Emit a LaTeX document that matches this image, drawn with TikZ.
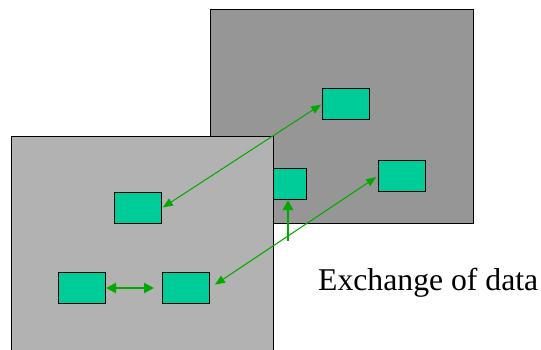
\documentclass[tikz,border=0pt]{standalone}
\usepackage{fontspec}
\setmainfont{Liberation Serif}
\usetikzlibrary{arrows.meta}
\definecolor{backgray}{RGB}{150,150,150}
\definecolor{frontgray}{RGB}{178,178,178}
\definecolor{boxgreen}{RGB}{0,204,153}
\definecolor{arrowgreen}{RGB}{0,170,0}
\tikzset{
  panel/.style={draw=black, line width=1pt, anchor=north west, inner sep=0pt},
  unitbox/.style={draw=black, line width=1pt, fill=boxgreen, anchor=north west, inner sep=0pt, minimum width=47pt, minimum height=31pt},
  thinlink/.style={draw=arrowgreen, line width=1pt, {Triangle[length=10pt,width=8pt]}-{Triangle[length=10pt,width=8pt]}},
  thicklink/.style={draw=arrowgreen, line width=2pt},
  tip/.style={Triangle[length=10pt,width=10pt]}
}
\begin{document}
\begin{tikzpicture}[x=1pt,y=-1pt]
\useasboundingbox (0,0) rectangle (541,349);
% back panel
\node[panel, fill=backgray, minimum width=263pt, minimum height=214pt] (back) at (210,9) {};
\node[unitbox] (b1) at (322,88) {};
\node[unitbox] (b2) at (259,168) {};
\node[unitbox] (b3) at (378,160) {};
% front panel
\node[panel, fill=frontgray, minimum width=262pt, minimum height=230pt] (front) at (11,136) {};
\node[unitbox] (f1) at (114,192) {};
\node[unitbox] (f2) at (58,272) {};
\node[unitbox] (f3) at (162,272) {};
% connectors
\draw[thinlink, shorten <=1pt, shorten >=1pt] (f1.east) -- (b1.west);
\draw[thinlink, shorten <=6pt, shorten >=2pt] (f3.east) -- (b3.west);
\coordinate (a3s) at (288,241);
\draw[thicklink, -{Triangle[length=10pt,width=10pt]}] (a3s) -- (a3s |- b2.south);
\draw[thicklink, {Triangle[length=10pt,width=10pt]}-{Triangle[length=10pt,width=10pt]}, shorten >=8pt] (f2.east) -- (f3.west);
% label
\node[anchor=base west, inner sep=0pt, font=\fontsize{31.7}{36}\selectfont] (lbl) at (318,290) {Exchange of data};
\end{tikzpicture}
\end{document}
